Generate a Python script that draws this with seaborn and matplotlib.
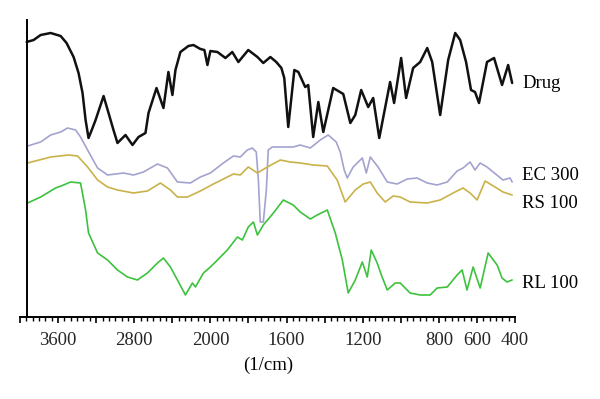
import numpy as np
import pandas as pd
import matplotlib
matplotlib.use("Agg")
import matplotlib.pyplot as plt
import seaborn as sns
from matplotlib.ticker import FixedLocator, FuncFormatter

# ---------------- data (wavenumber in 1/cm, relative transmittance) ----------------
drug_wn = [3930, 3857, 3783, 3678, 3573, 3511, 3437, 3385, 3343, 3311, 3280, 3238, 3206,
           3122, 3070, 3018, 2976, 2892, 2818, 2755, 2682, 2650, 2566, 2493, 2441, 2399,
           2367, 2315, 2231, 2178, 2105, 2063, 2031, 2000, 1963, 1921, 1885, 1853, 1801,
           1753, 1722, 1685, 1654, 1627, 1612, 1591, 1559, 1538, 1502, 1486, 1460, 1433,
           1407, 1355, 1302, 1265, 1239, 1208, 1171, 1145, 1113, 1056, 1035, 998, 972,
           935, 898, 861, 835, 793, 751, 714, 688, 657, 631, 610, 589, 547, 510, 468, 436, 415]
drug_t = [278, 280, 285, 287, 284, 277, 263, 247, 227, 200, 182, 192, 200,
          224, 207, 190, 177, 185, 175, 183, 187, 207, 232, 212, 248, 225,
          250, 268, 274, 275, 271, 270, 255, 269, 268, 262, 268, 258, 270,
          263, 257, 263, 258, 252, 242, 193, 250, 248, 233, 235, 183, 218,
          188, 232, 226, 197, 205, 230, 213, 222, 182, 238, 217, 262, 222,
          252, 258, 272, 258, 205, 260, 287, 280, 258, 230, 228, 217, 258, 262, 235, 255, 237]

ec_wn = [3920, 3783, 3678, 3573, 3500, 3416, 3364, 3290, 3185, 3080, 2913, 2808, 2703,
         2556, 2451, 2346, 2210, 2105, 2000, 1932, 1879, 1843, 1806, 1780, 1759, 1748,
         1738, 1722, 1706, 1696, 1675, 1617, 1565, 1528, 1475, 1423, 1381, 1339, 1318,
         1297, 1281, 1250, 1202, 1181, 1160, 1119, 1071, 1019, 966, 914, 861, 809, 756,
         704, 673, 636, 610, 583, 547, 515, 463, 426, 415]
ec_t = [174, 178, 185, 188, 192, 190, 183, 170, 152, 145, 147, 145, 148,
        156, 152, 138, 137, 143, 147, 157, 164, 163, 170, 172, 168, 140,
        98, 98, 130, 170, 173, 173, 173, 175, 172, 180, 185, 178, 168,
        150, 142, 153, 162, 147, 163, 153, 138, 136, 141, 142, 137, 135, 138,
        149, 152, 158, 150, 157, 153, 148, 140, 142, 138]

rs_wn = [3920, 3678, 3490, 3395, 3290, 3185, 3080, 2976, 2808, 2661, 2525, 2420, 2346,
         2241, 2105, 1984, 1879, 1843, 1801, 1753, 1701, 1633, 1580, 1528, 1460, 1386,
         1334, 1292, 1239, 1197, 1160, 1124, 1082, 1040, 1003, 951, 861, 793, 725, 673,
         636, 599, 557, 505, 463, 415]
rs_t = [157, 163, 165, 164, 153, 140, 133, 130, 127, 129, 137, 130, 123,
        123, 129, 136, 146, 145, 153, 147, 153, 160, 158, 157, 155, 154,
        140, 118, 130, 136, 138, 127, 118, 124, 123, 118, 117, 120, 127, 132,
        127, 120, 139, 133, 128, 125]

rl_wn = [3920, 3783, 3626, 3542, 3469, 3364, 3311, 3280, 3185, 3080, 2976, 2871, 2766,
         2661, 2556, 2493, 2420, 2346, 2262, 2189, 2157, 2073, 2000, 1963, 1911, 1858,
         1832, 1801, 1774, 1753, 1722, 1669, 1617, 1565, 1528, 1475, 1439, 1386, 1344,
         1307, 1276, 1239, 1202, 1176, 1155, 1124, 1098, 1071, 1029, 1003, 951, 898, 846,
         809, 756, 704, 678, 652, 620, 583, 541, 494, 468, 442, 415]
rl_t = [117, 123, 132, 135, 138, 137, 110, 87, 67, 60, 50, 43, 40,
        47, 57, 62, 53, 40, 25, 37, 33, 47, 53, 60, 70, 83,
        80, 93, 98, 85, 95, 107, 120, 115, 108, 101, 105, 110, 87,
        60, 27, 40, 58, 43, 70, 57, 43, 30, 37, 37, 27, 25, 25,
        32, 33, 45, 50, 30, 53, 32, 67, 55, 42, 38, 40]

series_names = ["Drug", "EC 300", "RS 100", "RL 100"]
series_colors = ["#111111", "#a3a3cf", "#c9b24a", "#3dc23d"]
series_widths = [1.8, 1.2, 1.2, 1.2]
label_y_px = [83, 175, 203, 283]

tick_labels = [3600, 2800, 2000, 1600, 1200, 800, 600, 400]

# ---------------- plotting ----------------
sns.set_theme(style="white")
plt.rcParams["font.family"] = ["Liberation Serif", "DejaVu Serif"]

fig = plt.figure(figsize=(6.0, 3.99), dpi=100)
W, H = 600, 399
ax = fig.add_axes([20 / W, (H - 317) / H, 495 / W, 297 / H])


def fwd(w):
    w = np.asarray(w, dtype=float)
    return np.where(w <= 2000, w, 2000 + (w - 2000) / 2.0)


def inv(u):
    u = np.asarray(u, dtype=float)
    return np.where(u <= 2000, u, 2000 + 2.0 * (u - 2000))


ax.set_xscale("function", functions=(fwd, inv))

data = [(drug_wn, drug_t), (ec_wn, ec_t), (rs_wn, rs_t), (rl_wn, rl_t)]
for (wn, t), name, col, lw in zip(data, series_names, series_colors, series_widths):
    df = pd.DataFrame({"wn": wn, "t": t})
    sns.lineplot(data=df, x="wn", y="t", ax=ax, color=col, lw=lw,
                 estimator=None, sort=True)

ax.set_xlim(4000, 400)
ax.set_ylim(3, 300)
ax.set_xlabel("")
ax.set_ylabel("")
ax.set_yticks([])

# ticks: long ones every 200 (in compressed units), short ones every 200/6
major_u = np.arange(400, 3000.1, 200)
minor_u = np.arange(400, 3000.1, 200 / 6)
ax.xaxis.set_major_locator(FixedLocator(inv(major_u)))
ax.xaxis.set_minor_locator(FixedLocator(inv(minor_u)))
lab_set = set(tick_labels)
ax.xaxis.set_major_formatter(FuncFormatter(
    lambda v, p: f"{int(round(v))}" if int(round(v)) in lab_set else ""))
ax.tick_params(axis="x", which="major", direction="out", length=4.5, width=1.2,
               color="black", labelsize=13.5, pad=6, bottom=True)
ax.tick_params(axis="x", which="minor", direction="out", length=3, width=1.0,
               color="black", bottom=True)

for s in ["top", "right"]:
    ax.spines[s].set_visible(False)
ax.spines["bottom"].set_color("black")
ax.spines["bottom"].set_linewidth(1.4)
ax.spines["left"].set_color("black")
ax.spines["left"].set_linewidth(1.4)
ax.spines["left"].set_position(("data", 3930))
ax.grid(False)

for name, ypx in zip(series_names, label_y_px):
    fig.text(522 / W, 1 - ypx / H, name, ha="left", va="center", fontsize=13.5,
             color="black")

fig.text(268 / W, 1 - 365 / H, "(1/cm)", ha="center", va="center", fontsize=13.5,
         color="black")

fig.savefig("out.png", dpi=100, facecolor="white")
